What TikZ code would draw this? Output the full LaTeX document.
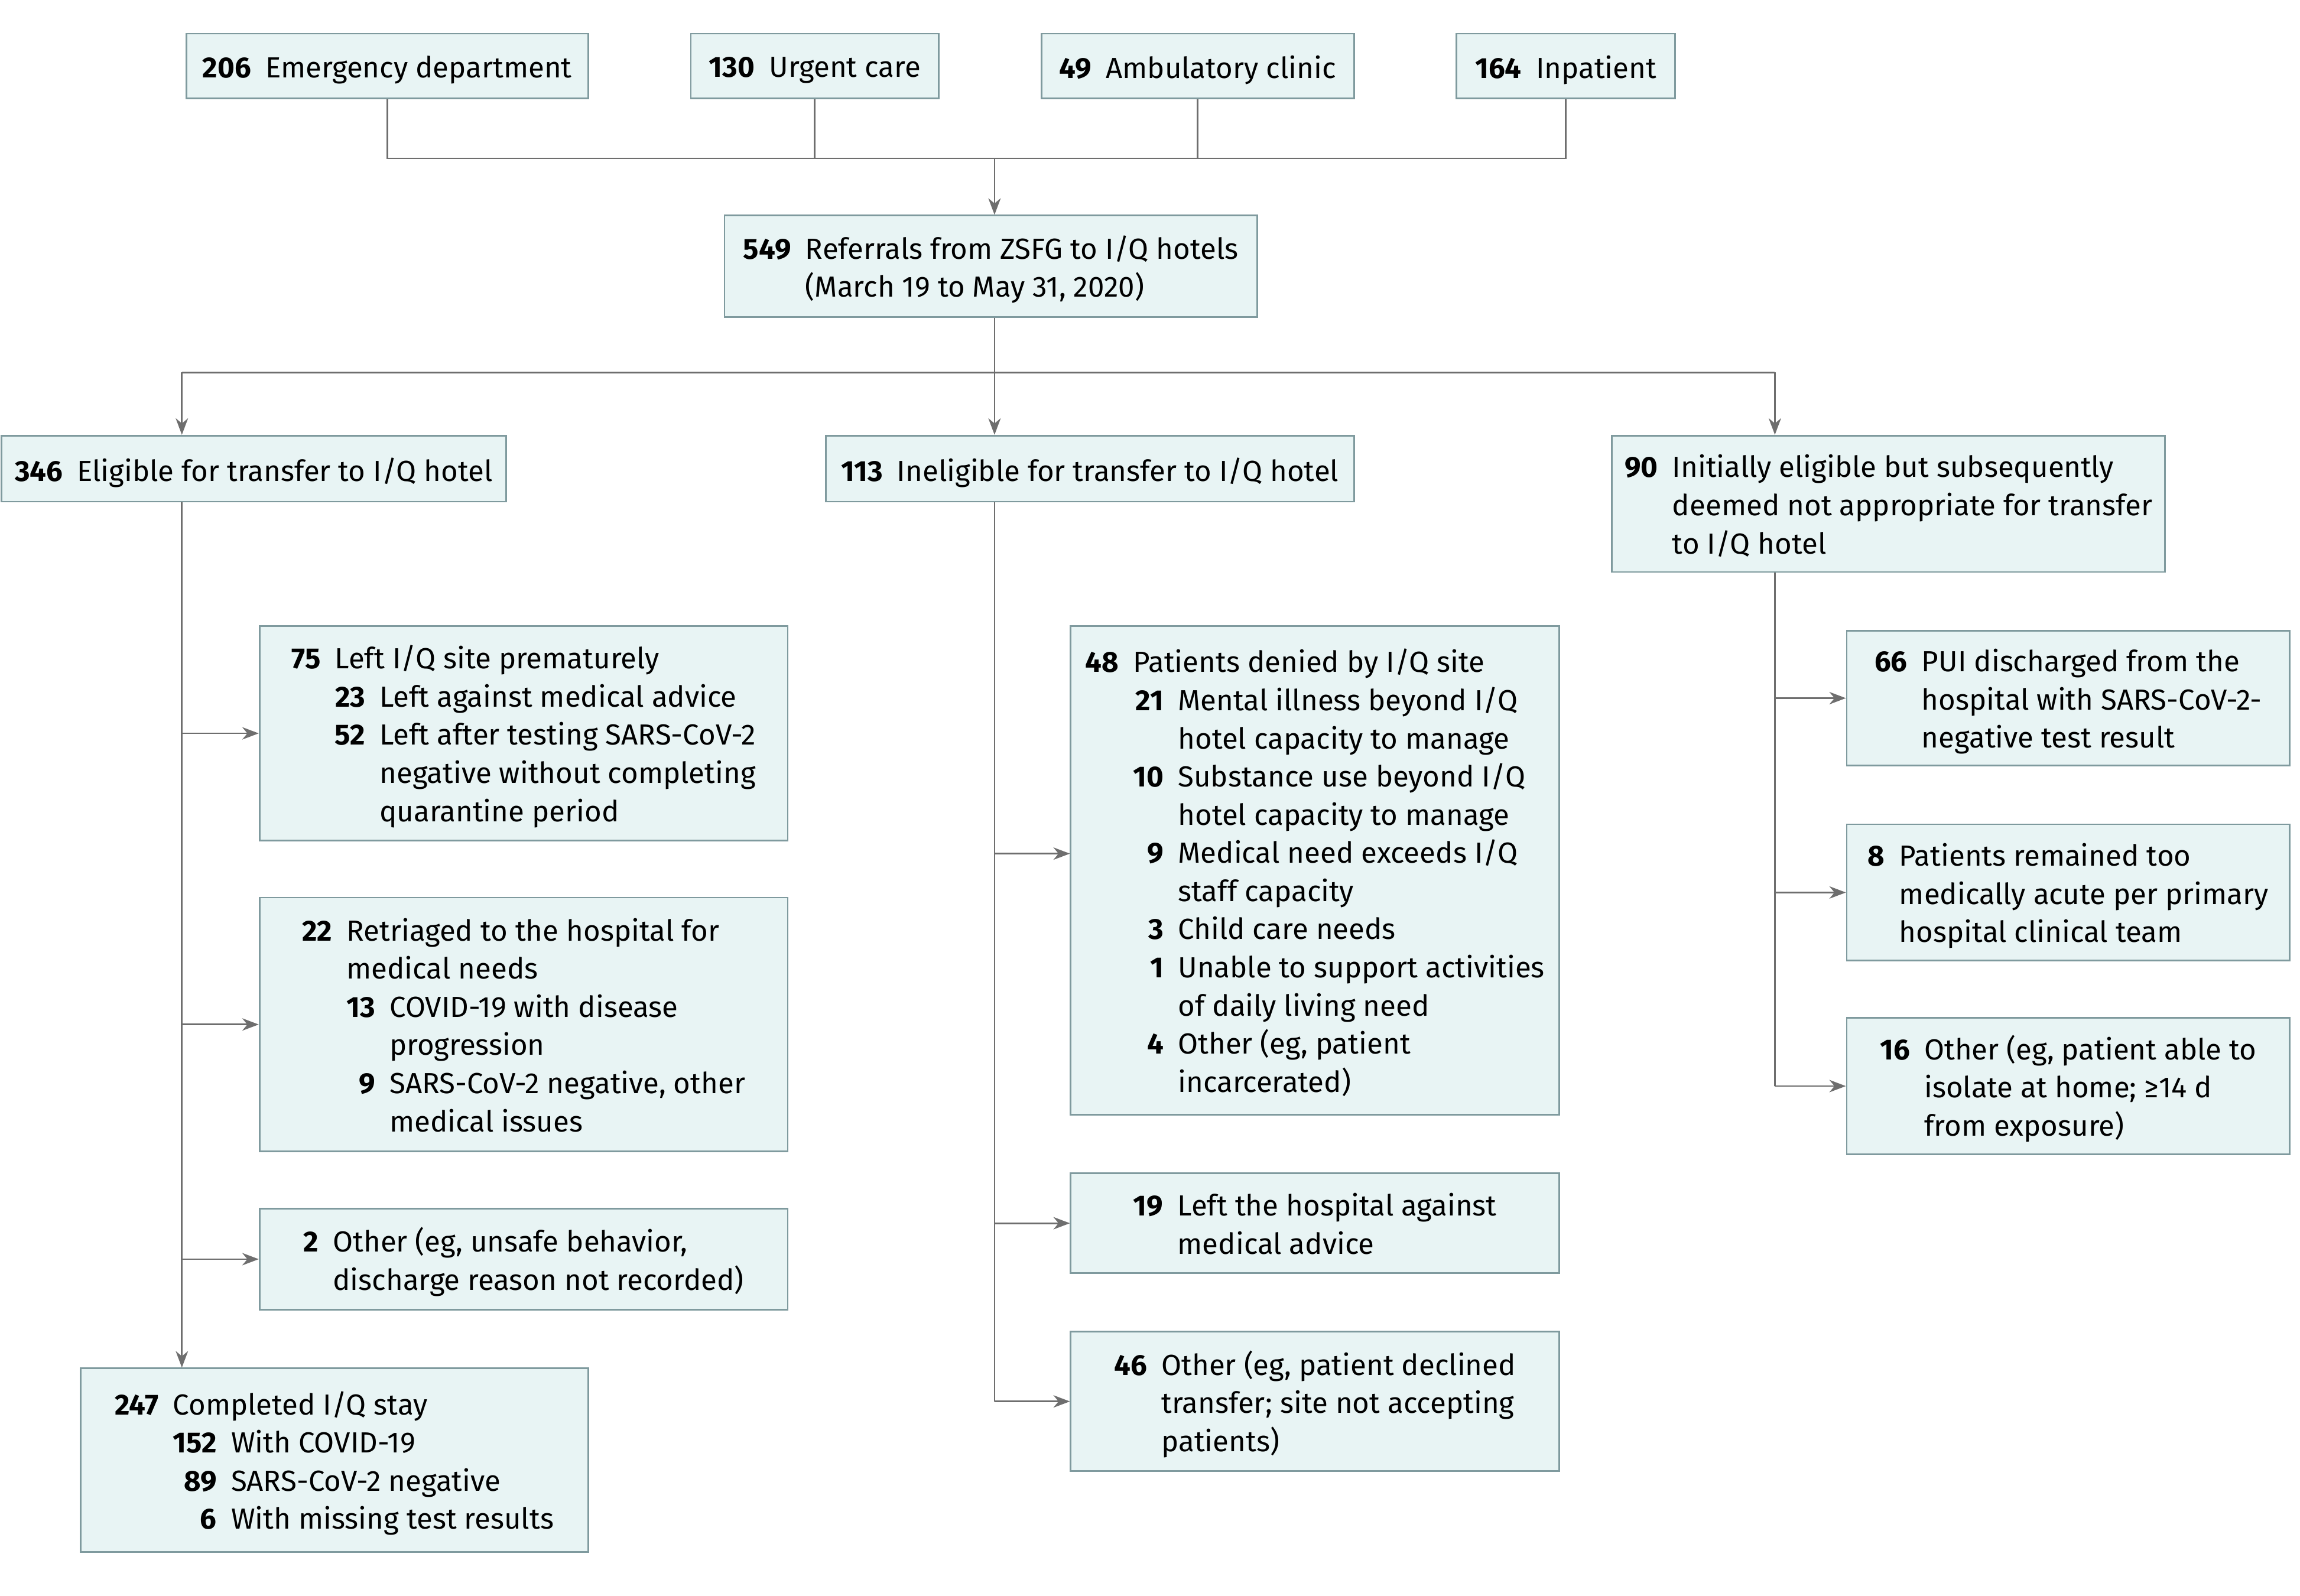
\documentclass[tikz,border=0pt]{standalone}
\usepackage{fontspec}
\setmainfont{Fira Sans}
\usetikzlibrary{arrows.meta}
\definecolor{boxfill}{HTML}{E8F4F4}
\definecolor{boxline}{HTML}{7F9A9E}
\definecolor{linkgray}{HTML}{6E6E6E}
\setlength{\tabcolsep}{0pt}
\begin{document}
\begin{tikzpicture}[x=0.025cm, y=-0.025cm,
    panel/.style={draw=boxline, fill=boxfill, line width=0.8pt, inner sep=0pt,
      font=\fontsize{14.1}{18.5}\selectfont,
      execute at begin node={\setbox0=\hbox\bgroup},
      execute at end node={\egroup\raisebox{-2pt}[\ht0][\dp0]{\copy0}}},
    link/.style={draw=linkgray, line width=0.8pt},
    arr/.style={link, -{Stealth[length=8pt, width=6pt, inset=2.5pt]}}] %I/Q referrals
    \useasboundingbox (0,0) rectangle (1568,1088);

    \node[panel, minimum width=6.85cm, minimum height=1.1cm] (ed) at (264,45)
        {\textbf{206}\hspace{7pt}Emergency department};
    \node[panel, minimum width=4.225cm, minimum height=1.1cm] (urg) at (555.5,45)
        {\textbf{130}\hspace{7pt}Urgent care};
    \node[panel, minimum width=5.325cm, minimum height=1.1cm] (amb) at (816.5,45)
        {\textbf{49}\hspace{7pt}Ambulatory clinic};
    \node[panel, minimum width=3.725cm, minimum height=1.1cm] (inp) at (1067.5,45)
        {\textbf{164}\hspace{7pt}Inpatient};

    \node[panel, minimum width=9.075cm, minimum height=1.725cm] (ref) at (675.5,181.5)
        {\begin{tabular}{@{}r@{\hspace{7pt}}l@{}}
         \textbf{549} & Referrals from ZSFG to I/Q hotels\\
          & (March 19 to May 31, 2020)
         \end{tabular}};

    \node[panel, minimum width=8.6cm, minimum height=1.125cm] (elig) at (173,319.5)
        {\textbf{346}\hspace{7pt}Eligible for transfer to I/Q hotel};
    \node[panel, minimum width=9cm, minimum height=1.125cm] (inel) at (743,319.5)
        {\textbf{113}\hspace{7pt}Ineligible for transfer to I/Q hotel};
    \node[panel, minimum width=9.425cm, minimum height=2.325cm] (init) at (1287.5,343.5)
        {\begin{tabular}{@{}r@{\hspace{7pt}}l@{}}
         \textbf{90} & Initially eligible but subsequently\\
          & deemed not appropriate for transfer\\
          & to I/Q hotel
         \end{tabular}};

    \node[panel, minimum width=9cm, minimum height=3.65cm] (left75) at (357,500)
        {\begin{tabular}{@{}r@{\hspace{7pt}}r@{\hspace{7pt}}l@{}}
         \textbf{75} & \multicolumn{2}{@{}l@{}}{Left I/Q site prematurely}\\
          & \textbf{23} & Left against medical advice\\
          & \textbf{52} & Left after testing SARS-CoV-2\\
          & & negative without completing\\
          & & quarantine period
         \end{tabular}};
    \node[panel, minimum width=9cm, minimum height=4.325cm] (retr) at (357,698.5)
        {\begin{tabular}{@{}r@{\hspace{7pt}}r@{\hspace{7pt}}l@{}}
         \textbf{22} & \multicolumn{2}{@{}l@{}}{Retriaged to the hospital for}\\
          & \multicolumn{2}{@{}l@{}}{medical needs}\\
          & \textbf{13} & COVID-19 with disease\\
          & & progression\\
          & \textbf{9} & SARS-CoV-2 negative, other\\
          & & medical issues
         \end{tabular}};
    \node[panel, minimum width=9cm, minimum height=1.725cm] (oth2) at (357,858.5)
        {\begin{tabular}{@{}r@{\hspace{7pt}}l@{}}
         \textbf{2} & Other (eg, unsafe behavior,\\
          & discharge reason not recorded)
         \end{tabular}};
    \node[panel, minimum width=8.65cm, minimum height=3.125cm] (comp) at (228,995.5)
        {\begin{tabular}{@{}r@{\hspace{7pt}}r@{\hspace{7pt}}l@{}}
         \textbf{247} & \multicolumn{2}{@{}l@{}}{Completed I/Q stay}\\
          & \textbf{152} & With COVID-19\\
          & \textbf{89} & SARS-CoV-2 negative\\
          & \textbf{6} & With missing test results
         \end{tabular}};

    \node[panel, minimum width=8.325cm, minimum height=8.325cm] (den48) at (896.5,593.5)
        {\begin{tabular}{@{}r@{\hspace{7pt}}r@{\hspace{7pt}}l@{}}
         \textbf{48} & \multicolumn{2}{@{}l@{}}{Patients denied by I/Q site}\\
          & \textbf{21} & Mental illness beyond I/Q\\
          & & hotel capacity to manage\\
          & \textbf{10} & Substance use beyond I/Q\\
          & & hotel capacity to manage\\
          & \textbf{9} & Medical need exceeds I/Q\\
          & & staff capacity\\
          & \textbf{3} & Child care needs\\
          & \textbf{1} & Unable to support activities\\
          & & of daily living need\\
          & \textbf{4} & Other (eg, patient\\
          & & incarcerated)
         \end{tabular}};
    \node[panel, minimum width=8.325cm, minimum height=1.7cm] (lft19) at (896.5,834)
        {\begin{tabular}{@{}r@{\hspace{7pt}}l@{}}
         \textbf{19} & Left the hospital against\\
          & medical advice
         \end{tabular}};
    \node[panel, minimum width=8.325cm, minimum height=2.375cm] (oth46) at (896.5,955.5)
        {\begin{tabular}{@{}r@{\hspace{7pt}}l@{}}
         \textbf{46} & Other (eg, patient declined\\
          & transfer; site not accepting\\
          & patients)
         \end{tabular}};

    \node[panel, minimum width=7.55cm, minimum height=2.3cm] (pui) at (1410,476)
        {\begin{tabular}{@{}r@{\hspace{7pt}}l@{}}
         \textbf{66} & PUI discharged from the\\
          & hospital with SARS-CoV-2-\\
          & negative test result
         \end{tabular}};
    \node[panel, minimum width=7.55cm, minimum height=2.325cm] (acute) at (1410,608.5)
        {\begin{tabular}{@{}r@{\hspace{7pt}}l@{}}
         \textbf{8} & Patients remained too\\
          & medically acute per primary\\
          & hospital clinical team
         \end{tabular}};
    \node[panel, minimum width=7.55cm, minimum height=2.325cm] (oth16) at (1410,740.5)
        {\begin{tabular}{@{}r@{\hspace{7pt}}l@{}}
         \textbf{16} & Other (eg, patient able to\\
          & isolate at home; ≥14 d\\
          & from exposure)
         \end{tabular}};

    \coordinate (top) at (678,108);
    \coordinate (split) at (678,254);
    \coordinate (trunkL) at (124,254);
    \coordinate (trunkR) at (1210,254);
    \coordinate (b48) at (678,582);

    \draw[link] (ed.south) -- (ed.south |- top) -- (inp.south |- top) -- (inp.south);
    \draw[link] (urg.south) -- (urg.south |- top);
    \draw[link] (amb.south) -- (amb.south |- top);
    \draw[arr] (top) -- (top |- ref.north);

    \draw[link] (split |- ref.south) -- (split);
    \draw[link] (trunkL) -- (trunkR);
    \draw[arr] (trunkL) -- (trunkL |- elig.north);
    \draw[arr] (split) -- (split |- inel.north);
    \draw[arr] (trunkR) -- (trunkR |- init.north);

    \draw[arr] (trunkL |- elig.south) -- (trunkL |- comp.north);
    \foreach \n in {left75,retr,oth2}
        \draw[arr] (trunkL |- \n.west) -- (\n.west);

    \draw[link] (split |- inel.south) -- (split |- oth46.west);
    \draw[arr] (b48) -- (b48 -| den48.west);
    \foreach \n in {lft19,oth46}
        \draw[arr] (split |- \n.west) -- (\n.west);

    \draw[link] (trunkR |- init.south) -- (trunkR |- oth16.west);
    \foreach \n in {pui,acute,oth16}
        \draw[arr] (trunkR |- \n.west) -- (\n.west);
\end{tikzpicture}
\end{document}
